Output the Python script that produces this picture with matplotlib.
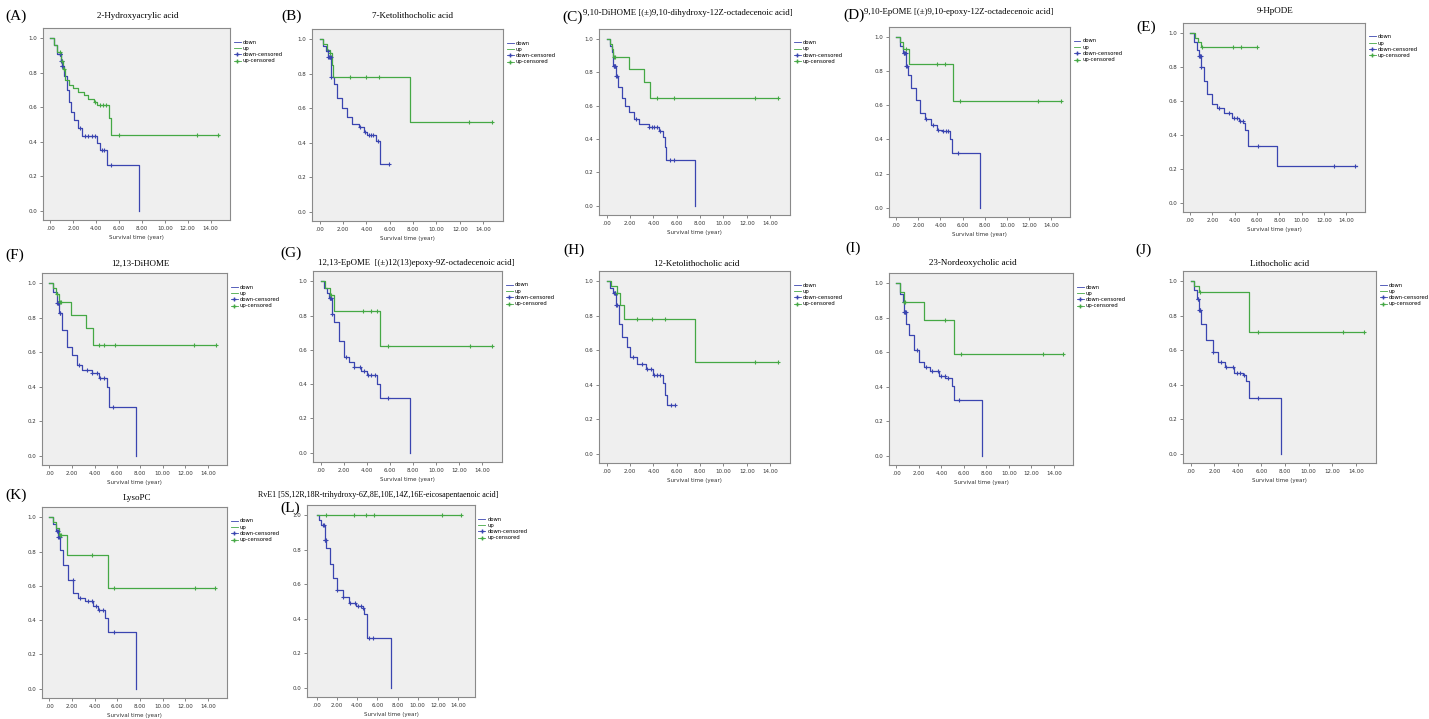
import matplotlib
matplotlib.use("Agg")
import matplotlib.pyplot as plt
from matplotlib.lines import Line2D
import numpy as np

W, H = 1429, 719
BLUE = "#3a45b0"
GREEN = "#45a845"
SERIF = ["Liberation Serif", "DejaVu Serif"]

# ---------------- data (time in years, cumulative survival) ----------------
A_title = "2-Hydroxyacrylic acid"
A_up_t = [0, 0.3, 0.6, 0.9, 1.1, 1.3, 1.6, 2.0, 2.4, 2.9, 3.3, 3.8, 4.1, 5.1, 5.3, 14.7]
A_up_s = [1, 0.96, 0.92, 0.87, 0.82, 0.76, 0.73, 0.71, 0.69, 0.67, 0.65, 0.63, 0.61, 0.54, 0.44, 0.44]
A_up_c = [0.8, 1.0, 1.2, 3.9, 4.3, 4.6, 4.9, 5.96, 12.85, 14.68]
A_dn_t = [0, 0.3, 0.6, 0.9, 1.0, 1.2, 1.45, 1.6, 1.8, 2.03, 2.4, 2.76, 4.07, 4.3, 4.94, 7.7]
A_dn_s = [1, 0.96, 0.91, 0.87, 0.84, 0.78, 0.70, 0.63, 0.57, 0.525, 0.477, 0.43, 0.39, 0.35, 0.266, 0.0]
A_dn_c = [0.8, 0.85, 0.88, 0.95, 0.98, 1.0, 1.05, 2.6, 3.0, 3.3, 3.6, 3.9, 4.5, 4.7, 5.3]

B_title = "7-Ketolithocholic acid"
B_up_t = [0, 0.3, 0.6, 0.88, 1.09, 1.15, 7.7, 14.8]
B_up_s = [1, 0.97, 0.94, 0.92, 0.85, 0.78, 0.52, 0.52]
B_up_c = [0.9, 2.6, 4.0, 5.1, 12.8, 14.8]
B_dn_t = [0, 0.3, 0.55, 0.74, 1.0, 1.2, 1.5, 1.9, 2.35, 2.8, 3.4, 3.8, 4.1, 4.85, 5.2, 5.9]
B_dn_s = [1, 0.96, 0.93, 0.90, 0.78, 0.74, 0.66, 0.60, 0.55, 0.51, 0.49, 0.46, 0.445, 0.41, 0.275, 0.275]
B_dn_c = [0.7, 0.75, 0.8, 0.85, 0.9, 0.95, 1.0, 3.5, 3.9, 4.2, 4.4, 4.6, 5.0, 5.9]

C_title = "9,10-DiHOME [(\u00b1)9,10-dihydroxy-12Z-octadecenoic acid]"
C_up_t = [0, 0.25, 0.44, 0.58, 1.9, 3.2, 3.7, 14.7]
C_up_s = [1, 0.97, 0.94, 0.89, 0.82, 0.74, 0.646, 0.646]
C_up_c = [0.6, 0.75, 4.3, 5.8, 12.7, 14.7]
C_dn_t = [0, 0.25, 0.44, 0.58, 0.79, 1.0, 1.3, 1.6, 1.9, 2.33, 2.77, 3.6, 4.5, 4.8, 5.0, 5.1, 7.6]
C_dn_s = [1, 0.96, 0.92, 0.84, 0.78, 0.71, 0.646, 0.60, 0.56, 0.52, 0.49, 0.47, 0.45, 0.41, 0.354, 0.276, 0.0]
C_dn_c = [0.6, 0.65, 0.7, 0.75, 0.8, 0.85, 2.5, 3.6, 3.9, 4.1, 4.3, 4.6, 5.4, 5.8]

D_title = "9,10-EpOME [(\u00b1)9,10-epoxy-12Z-octadecenoic acid]"
D_up_t = [0, 0.3, 0.6, 1.18, 5.15, 14.85]
D_up_s = [1, 0.97, 0.93, 0.84, 0.624, 0.624]
D_up_c = [0.9, 3.7, 4.4, 5.8, 12.85, 14.85]
D_dn_t = [0, 0.3, 0.6, 0.88, 1.03, 1.3, 1.76, 2.15, 2.56, 3.1, 3.7, 4.1, 4.85, 5.0, 7.56]
D_dn_s = [1, 0.95, 0.906, 0.83, 0.78, 0.70, 0.634, 0.556, 0.52, 0.487, 0.458, 0.448, 0.40, 0.32, 0.0]
D_dn_c = [0.7, 0.75, 0.8, 0.85, 0.9, 0.95, 2.7, 3.3, 3.8, 4.2, 4.5, 4.7, 5.6]

E_title = "9-HpODE"
E_up_t = [0, 0.4, 0.7, 1.0, 5.96]
E_up_s = [1, 0.97, 0.95, 0.92, 0.92]
E_up_c = [1.05, 3.83, 4.6, 5.96]
E_dn_t = [0, 0.3, 0.65, 0.8, 1.0, 1.24, 1.53, 1.98, 2.42, 3.0, 3.75, 4.34, 4.78, 4.93, 5.2, 7.8, 14.96]
E_dn_s = [1, 0.95, 0.90, 0.865, 0.80, 0.72, 0.643, 0.585, 0.556, 0.527, 0.498, 0.479, 0.469, 0.43, 0.334, 0.218, 0.218]
E_dn_c = [0.8, 0.85, 0.9, 0.95, 1.0, 2.6, 3.5, 3.9, 4.2, 4.5, 4.7, 6.1, 12.9, 14.8]

F_title = "12,13-DiHOME"
F_up_t = [0, 0.3, 0.6, 0.87, 1.9, 3.26, 3.9, 14.7]
F_up_s = [1, 0.97, 0.94, 0.894, 0.816, 0.74, 0.642, 0.642]
F_up_c = [0.7, 0.9, 1.0, 4.4, 4.8, 5.8, 12.8, 14.7]
F_dn_t = [0, 0.3, 0.64, 0.87, 1.16, 1.6, 2.03, 2.47, 2.9, 3.78, 4.36, 5.08, 5.23, 7.7]
F_dn_s = [1, 0.95, 0.884, 0.826, 0.73, 0.632, 0.584, 0.526, 0.497, 0.478, 0.449, 0.40, 0.28, 0.0]
F_dn_c = [0.7, 0.75, 0.8, 0.85, 0.9, 0.95, 2.6, 3.3, 3.8, 4.2, 4.5, 4.8, 5.6]

G_title = "12,13-EpOME  [(\u00b1)12(13)epoxy-9Z-octadecenoic acid]"
G_up_t = [0, 0.4, 0.82, 1.18, 5.18, 14.8]
G_up_s = [1, 0.96, 0.92, 0.826, 0.624, 0.624]
G_up_c = [0.9, 3.7, 4.4, 4.9, 5.8, 12.9, 14.8]
G_dn_t = [0, 0.3, 0.6, 0.76, 0.97, 1.18, 1.56, 2.06, 2.44, 2.88, 3.47, 4.06, 4.88, 5.18, 7.7]
G_dn_s = [1, 0.96, 0.93, 0.90, 0.81, 0.76, 0.65, 0.556, 0.527, 0.498, 0.479, 0.45, 0.40, 0.32, 0.0]
G_dn_c = [0.8, 0.85, 0.9, 0.95, 1.0, 2.2, 2.9, 3.4, 3.8, 4.1, 4.4, 4.7, 5.8]

H_title = "12-Ketolithocholic acid"
H_up_t = [0, 0.4, 0.87, 1.17, 1.46, 7.58, 14.7]
H_up_s = [1, 0.97, 0.93, 0.86, 0.78, 0.53, 0.53]
H_up_c = [0.9, 2.6, 3.9, 5.0, 12.7, 14.7]
H_dn_t = [0, 0.3, 0.58, 0.79, 1.02, 1.31, 1.75, 2.04, 2.62, 3.35, 3.94, 4.8, 5.04, 5.16, 5.83]
H_dn_s = [1, 0.96, 0.93, 0.86, 0.754, 0.677, 0.62, 0.56, 0.522, 0.493, 0.455, 0.412, 0.338, 0.28, 0.28]
H_dn_c = [0.6, 0.7, 0.75, 0.8, 0.9, 2.3, 3.0, 3.5, 3.8, 4.1, 4.3, 4.6, 5.5, 5.83]

I_title = "23-Nordeoxycholic acid"
I_up_t = [0, 0.3, 0.68, 2.44, 5.09, 14.8]
I_up_s = [1, 0.95, 0.893, 0.786, 0.59, 0.59]
I_up_c = [0.7, 0.75, 4.35, 5.76, 13.0, 14.8]
I_dn_t = [0, 0.3, 0.55, 0.68, 0.88, 1.12, 1.56, 2.0, 2.44, 3.03, 3.76, 4.35, 4.94, 5.09, 7.6]
I_dn_s = [1, 0.94, 0.89, 0.834, 0.766, 0.698, 0.61, 0.546, 0.517, 0.493, 0.464, 0.448, 0.405, 0.32, 0.0]
I_dn_c = [0.65, 0.7, 0.75, 0.8, 0.85, 1.8, 2.6, 3.2, 3.7, 4.0, 4.3, 4.6, 5.6]

J_title = "Lithocholic acid"
J_up_t = [0, 0.3, 0.68, 4.9, 14.7]
J_up_s = [1, 0.97, 0.94, 0.706, 0.706]
J_up_c = [0.75, 5.7, 12.9, 14.7]
J_dn_t = [0, 0.25, 0.5, 0.68, 0.88, 1.32, 1.85, 2.35, 2.94, 3.68, 4.4, 4.7, 4.9, 7.65]
J_dn_s = [1, 0.95, 0.90, 0.833, 0.755, 0.657, 0.588, 0.53, 0.50, 0.47, 0.457, 0.42, 0.323, 0.0]
J_dn_c = [0.6, 0.65, 0.7, 0.75, 0.8, 1.9, 2.6, 3.0, 3.6, 3.9, 4.2, 4.5, 5.7]

K_title = "LysoPC"
K_up_t = [0, 0.3, 0.6, 0.87, 1.55, 5.19, 14.67]
K_up_s = [1, 0.97, 0.94, 0.897, 0.78, 0.586, 0.586]
K_up_c = [0.9, 1.0, 3.8, 5.7, 12.85, 14.67]
K_dn_t = [0, 0.3, 0.55, 0.76, 0.96, 1.25, 1.69, 2.13, 2.57, 3.15, 3.88, 4.3, 4.96, 5.19, 7.67]
K_dn_s = [1, 0.96, 0.92, 0.887, 0.81, 0.722, 0.635, 0.56, 0.528, 0.509, 0.48, 0.46, 0.41, 0.328, 0.0]
K_dn_c = [0.7, 0.75, 0.8, 0.85, 0.9, 2.1, 2.7, 3.4, 3.8, 4.1, 4.4, 4.7, 5.7]

L_title = "RvE1 [5S,12R,18R-trihydroxy-6Z,8E,10E,14Z,16E-eicosapentaenoic acid]"
L_up_t = [0, 14.3]
L_up_s = [1, 1]
L_up_c = [0.85, 3.7, 4.9, 5.65, 12.4, 14.3]
L_dn_t = [0, 0.2, 0.43, 0.75, 0.92, 1.25, 1.57, 1.97, 2.56, 3.2, 3.87, 4.52, 4.69, 4.92, 5.0, 7.38]
L_dn_s = [1, 0.97, 0.943, 0.856, 0.81, 0.72, 0.636, 0.569, 0.525, 0.49, 0.473, 0.464, 0.425, 0.358, 0.29, 0.0]
L_dn_c = [0.6, 0.7, 0.75, 0.8, 0.85, 2.0, 2.6, 3.3, 3.8, 4.1, 4.4, 4.6, 5.2, 5.6]

x_ticks = [0, 2, 4, 6, 8, 10, 12, 14]
x_ticklabels = [".00", "2.00", "4.00", "6.00", "8.00", "10.00", "12.00", "14.00"]
y_ticks = [0.0, 0.2, 0.4, 0.6, 0.8, 1.0]
y_ticklabels = ["0.0", "0.2", "0.4", "0.6", "0.8", "1.0"]
legend_labels = ["down", "up", "down-censored", "up-censored"]
x_label = "Survival time (year)"

# ---------------- layout (pixel boxes: left, right, top, bottom) ----------------
panels = [
    ("(A)", A_title, (43, 230, 28, 220), (5, 16), ("c", 138, 16), A_up_t, A_up_s, A_up_c, A_dn_t, A_dn_s, A_dn_c),
    ("(B)", B_title, (312, 503, 29, 221), (281, 16), ("c", 413, 16), B_up_t, B_up_s, B_up_c, B_dn_t, B_dn_s, B_dn_c),
    ("(C)", C_title, (599, 790, 29, 215), (562, 17), ("l", 583, 13), C_up_t, C_up_s, C_up_c, C_dn_t, C_dn_s, C_dn_c),
    ("(D)", D_title, (889, 1070, 27, 217), (843, 15), ("l", 864, 12), D_up_t, D_up_s, D_up_c, D_dn_t, D_dn_s, D_dn_c),
    ("(E)", E_title, (1183, 1365, 23, 212), (1136, 27), ("c", 1275, 11), E_up_t, E_up_s, E_up_c, E_dn_t, E_dn_s, E_dn_c),
    ("(F)", F_title, (42, 227, 273, 465), (5, 255), ("c", 140, 264), F_up_t, F_up_s, F_up_c, F_dn_t, F_dn_s, F_dn_c),
    ("(G)", G_title, (313, 502, 271, 462), (280, 253), ("l", 318, 263), G_up_t, G_up_s, G_up_c, G_dn_t, G_dn_s, G_dn_c),
    ("(H)", H_title, (599, 790, 271, 463), (563, 250), ("c", 697, 264), H_up_t, H_up_s, H_up_c, H_dn_t, H_dn_s, H_dn_c),
    ("(I)", I_title, (889, 1073, 273, 465), (845, 248), ("c", 973, 263), I_up_t, I_up_s, I_up_c, I_dn_t, I_dn_s, I_dn_c),
    ("(J)", J_title, (1183, 1376, 271, 463), (1135, 250), ("c", 1280, 264), J_up_t, J_up_s, J_up_c, J_dn_t, J_dn_s, J_dn_c),
    ("(K)", K_title, (42, 227, 507, 698), (5, 495), ("c", 137, 498), K_up_t, K_up_s, K_up_c, K_dn_t, K_dn_s, K_dn_c),
    ("(L)", L_title, (307, 475, 505, 697), (280, 508), ("l", 258, 495), L_up_t, L_up_s, L_up_c, L_dn_t, L_dn_s, L_dn_c),
]

fig = plt.figure(figsize=(W / 100, H / 100), dpi=100)
fig.patch.set_facecolor("white")


def step_value(t_list, s_list, t):
    idx = np.searchsorted(np.asarray(t_list), t, side="right") - 1
    idx = max(0, min(idx, len(s_list) - 1))
    return s_list[idx]


for (lab, title, (l, r, t, b), (lx, ly), (ta, tx, ty),
     up_t, up_s, up_c, dn_t, dn_s, dn_c) in panels:
    ax = fig.add_axes([l / W, 1 - b / H, (r - l) / W, (b - t) / H])
    ax.set_facecolor("#efefef")
    for sp in ax.spines.values():
        sp.set_color("#8a8a8a")
        sp.set_linewidth(0.8)
    ax.step(dn_t, dn_s, where="post", color=BLUE, lw=0.9)
    ax.step(up_t, up_s, where="post", color=GREEN, lw=0.9)
    ax.plot(dn_c, [step_value(dn_t, dn_s, c) for c in dn_c], ls="none",
            marker="+", ms=3.5, mew=0.8, color=BLUE)
    ax.plot(up_c, [step_value(up_t, up_s, c) for c in up_c], ls="none",
            marker="+", ms=3.5, mew=0.8, color=GREEN)
    ax.set_xlim(-1.0 if lab == "(L)" else -0.65, 15.7)
    ax.set_ylim(-0.055, 1.06)
    ax.set_xticks(x_ticks)
    ax.set_xticklabels(x_ticklabels)
    ax.set_yticks(y_ticks)
    ax.set_yticklabels(y_ticklabels)
    ax.tick_params(labelsize=4, length=2, width=0.5, color="#555555",
                   labelcolor="#333333", pad=2)
    ax.set_xlabel(x_label, fontsize=4, color="#333333", labelpad=3)

    handles = [
        Line2D([], [], color=BLUE, lw=0.6),
        Line2D([], [], color=GREEN, lw=0.6),
        Line2D([], [], color=BLUE, lw=0.6, marker="+", ms=3),
        Line2D([], [], color=GREEN, lw=0.6, marker="+", ms=3),
    ]
    ax.legend(handles, legend_labels, loc="upper left",
              bbox_to_anchor=(1.02, 0.94), fontsize=3.8, frameon=False,
              handlelength=1.3, handletextpad=0.4, labelspacing=0.25,
              borderaxespad=0, borderpad=0)

    fig.text(lx / W, 1 - ly / H, lab, fontsize=11, family=SERIF,
             ha="left", va="center")
    if ta == "c":
        fig.text(tx / W, 1 - ty / H, title, fontsize=6.5, family=SERIF,
                 ha="center", va="center")
    else:
        fig.text(tx / W, 1 - ty / H, title, fontsize=6.3 if lab != "(L)" else 5.8,
                 family=SERIF, ha="left", va="center")

fig.savefig("out.png", dpi=100)
